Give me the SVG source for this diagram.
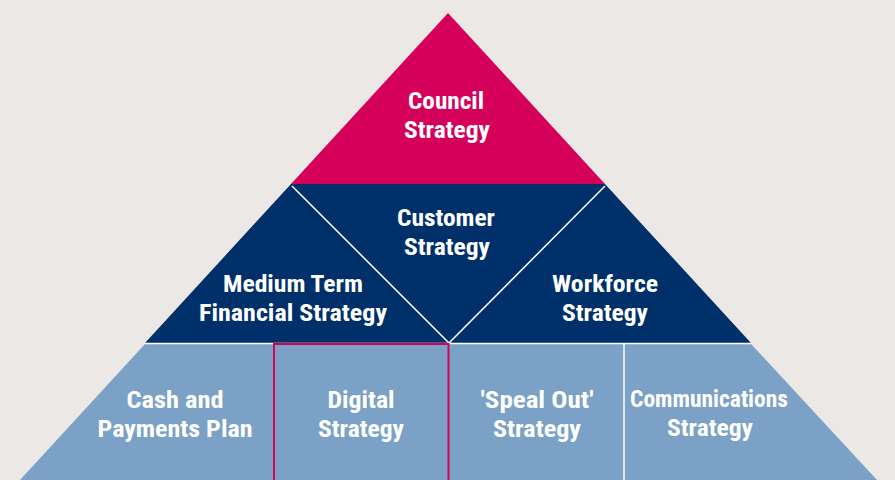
<svg xmlns="http://www.w3.org/2000/svg" width="895" height="480" viewBox="0 0 895 480">
<style>
.t{font-family:"Liberation Sans Narrow","Roboto Condensed","Liberation Sans",sans-serif;font-weight:bold;font-size:24px;fill:#ffffff;text-anchor:middle}
.sep{stroke:#ffffff;stroke-width:1.5;fill:none}
</style>
<rect x="0" y="0" width="895" height="480" fill="#ECE8E5"/>
<g id="tier-top">
<polygon points="448,13 291,184 605,184" fill="#D5005A"/>
</g>
<g id="tier-middle">
<polygon points="291,184 605,184 751,343 145,343" fill="#00306A"/>
</g>
<g id="tier-bottom">
<polygon points="145,344 751,344 877,480 20,480" fill="#7BA1C6"/>
</g>
<g id="connectors">
<line class="sep" x1="145" y1="343.5" x2="751" y2="343.5"/>
<line class="sep" x1="292" y1="186" x2="449" y2="343"/>
<line class="sep" x1="605" y1="186" x2="449" y2="343"/>
<line class="sep" x1="624" y1="344" x2="624" y2="480"/>
</g>
<g id="council-strategy">
<text class="t" x="446" y="109" textLength="76" lengthAdjust="spacingAndGlyphs">Council</text>
<text class="t" x="447" y="138" textLength="86" lengthAdjust="spacingAndGlyphs">Strategy</text>
</g>
<g id="customer-strategy">
<text class="t" x="446" y="226" textLength="98" lengthAdjust="spacingAndGlyphs">Customer</text>
<text class="t" x="447" y="255" textLength="86" lengthAdjust="spacingAndGlyphs">Strategy</text>
</g>
<g id="mtfs">
<text class="t" x="293" y="292" textLength="140" lengthAdjust="spacingAndGlyphs">Medium Term</text>
<text class="t" x="293" y="321" textLength="188" lengthAdjust="spacingAndGlyphs">Financial Strategy</text>
</g>
<g id="workforce-strategy">
<text class="t" x="605" y="292" textLength="106" lengthAdjust="spacingAndGlyphs">Workforce</text>
<text class="t" x="605" y="321" textLength="86" lengthAdjust="spacingAndGlyphs">Strategy</text>
</g>
<g id="cash-payments">
<text class="t" x="175" y="408" textLength="97" lengthAdjust="spacingAndGlyphs">Cash and</text>
<text class="t" x="175" y="437" textLength="155" lengthAdjust="spacingAndGlyphs">Payments Plan</text>
</g>
<g id="digital-strategy">
<rect x="274" y="344" width="174.5" height="140" fill="none" stroke="#D5005A" stroke-width="2"/>
<text class="t" x="361" y="408" textLength="67" lengthAdjust="spacingAndGlyphs">Digital</text>
<text class="t" x="361" y="437" textLength="86" lengthAdjust="spacingAndGlyphs">Strategy</text>
</g>
<g id="speak-out">
<text class="t" x="537" y="408" textLength="113" lengthAdjust="spacingAndGlyphs">'Speal Out'</text>
<text class="t" x="537" y="437" textLength="88" lengthAdjust="spacingAndGlyphs">Strategy</text>
</g>
<g id="communications">
<text class="t" x="709" y="407" textLength="158" lengthAdjust="spacingAndGlyphs">Communications</text>
<text class="t" x="710" y="436" textLength="86" lengthAdjust="spacingAndGlyphs">Strategy</text>
</g>
</svg>
